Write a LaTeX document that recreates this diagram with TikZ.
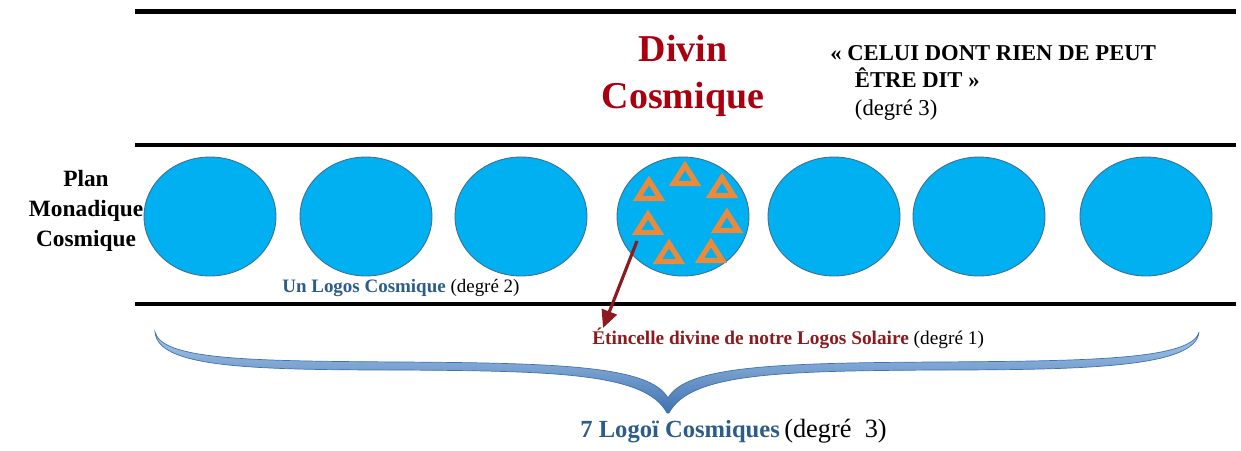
\documentclass[tikz,border=0pt]{standalone}
\usepackage{fontspec}
\setmainfont{Liberation Serif}
\usetikzlibrary{shapes.geometric, positioning, arrows.meta}
\definecolor{monadblue}{HTML}{00B0F0}
\definecolor{logosedge}{HTML}{3E6E94}
\definecolor{sparkorange}{HTML}{EC8A3C}
\definecolor{divinred}{HTML}{A8000F}
\definecolor{sparkred}{HTML}{8C1A1E}
\definecolor{logosblue}{HTML}{2C5C88}
\definecolor{bracelight}{HTML}{A9C8EA}
\definecolor{bracedark}{HTML}{3F72B0}
\tikzset{
  plane/.style={line width=2.6pt},
  logos/.style={ellipse, draw=logosedge, fill=monadblue, line width=0.5pt,
    minimum width=2.64cm, minimum height=2.38cm, inner sep=0pt},
  spark/.style={draw=sparkorange, line width=3pt, line join=miter},
  sparkarrow/.style={draw=sparkred, line width=1.8pt,
    -{Triangle[length=10pt, width=9pt]}},
  label/.style={inner sep=0pt, anchor=base west}
}
\begin{document}
\begin{tikzpicture}[x=0.02cm, y=-0.02cm]
  \useasboundingbox (0,0) rectangle (1241,450);

  % planes
  \draw[plane] (135,11.5) -- (1236,11.5);
  \draw[plane] (135,145) -- (1236,145);
  \draw[plane] (135,304) -- (1236,304);

  % the seven cosmic logoi
  \foreach \n/\x in {1/210,2/366,3/521,4/683,5/834,6/979,7/1146}
    \node[logos] (l\n) at (\x,216.5) {};

  % sparks in the fourth logos
  \foreach \cx/\cy in {685/175, 649/190, 722/187, 648/224, 727/222, 669/253, 711/252}
    \draw[spark] (\cx-11.5,\cy+8.5) -- (\cx+11.5,\cy+8.5) -- (\cx,\cy-9.5) -- cycle;

  \node[inner sep=0pt, align=center, text=divinred,
    font=\bfseries\fontsize{21.6}{26.7}\selectfont] (divin) at (683,76) {Divin\\Cosmique};
  \node[inner sep=0pt, anchor=north west, align=left,
    font=\fontsize{12.9}{15.6}\selectfont] (celui) at (830,45)
    {\textbf{« CELUI DONT RIEN DE PEUT}\\\hspace*{14pt}\textbf{ÊTRE DIT »}\\\hspace*{14pt}(degré 3)};
  \node[inner sep=0pt, align=center,
    font=\bfseries\fontsize{13.3}{17}\selectfont] (plan) at (86,211) {Plan\\Monadique\\Cosmique};

  \node[label, font=\fontsize{10.8}{13}\selectfont] (unlogos) at (282,292)
    {\textcolor{logosblue}{\textbf{Un Logos Cosmique}} (degré 2)};
  \node[label, font=\fontsize{11}{13}\selectfont] (etinc) at (592,344)
    {\textcolor{sparkred}{\textbf{Étincelle divine de notre Logos Solaire}} (degré 1)};
  \node[label] (sept) at (580,437)
    {\textcolor{logosblue}{\bfseries\fontsize{14}{16}\selectfont 7 Logoï Cosmiques}
     {\fontsize{15}{17}\selectfont (degré\ \ 3)}};

  % spark arrow
  \coordinate (sparkout) at (637,241);
  \coordinate (sparktip) at (603,328);
  \draw[sparkarrow] (sparkout) -- (sparktip);

  % brace
  \shade[top color=bracelight, bottom color=bracedark, draw=bracedark, line width=0.4pt]
    (155,332) .. controls (162,360) and (250,361) .. (400,362)
    .. controls (560,363) and (650,366) .. (668,398)
    .. controls (686,366) and (776,363) .. (936,362)
    .. controls (1086,361) and (1192,360) .. (1199,332)
    .. controls (1196,367) and (1090,370) .. (936,370)
    .. controls (780,371) and (690,373) .. (669,413)
    -- (667,413)
    .. controls (646,373) and (556,371) .. (400,370)
    .. controls (246,370) and (158,367) .. (155,332) -- cycle;
\end{tikzpicture}
\end{document}
